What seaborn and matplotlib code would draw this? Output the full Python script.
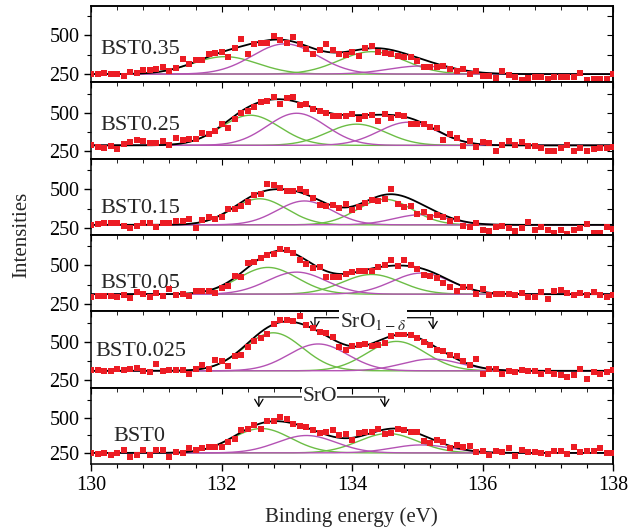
import numpy as np
import matplotlib
matplotlib.use("Agg")
import matplotlib.pyplot as plt
import seaborn as sns
from matplotlib.ticker import MultipleLocator

# binding energy grid of the measured points (0.1 eV step)
energy = np.round(np.linspace(130.0, 138.0, 81), 2)

samples = ["BST0.35", "BST0.25", "BST0.15", "BST0.05", "BST0.025", "BST0"]

counts_035 = [254, 252, 261, 254, 254, 239, 265, 256, 280, 280,
              282, 297, 269, 291, 351, 319, 345, 345, 379, 388,
              394, 362, 422, 478, 379, 448, 450, 450, 496, 474,
              450, 487, 442, 416, 384, 405, 444, 409, 379, 377,
              392, 366, 420, 435, 394, 388, 379, 369, 364, 364,
              336, 295, 295, 295, 306, 282, 274, 282, 254, 272,
              241, 239, 226, 272, 248, 233, 211, 228, 235, 231,
              222, 233, 235, 231, 235, 261, 213, 222, 222, 222,
              252]
counts_025 = [287, 276, 270, 283, 263, 298, 309, 320, 316, 303,
              305, 314, 287, 338, 324, 327, 331, 368, 364, 379,
              427, 401, 458, 500, 511, 539, 570, 579, 605, 561,
              600, 605, 552, 557, 526, 517, 500, 478, 482, 484,
              491, 462, 480, 489, 451, 493, 469, 489, 480, 430,
              427, 430, 405, 401, 322, 360, 335, 285, 318, 276,
              309, 303, 252, 292, 318, 287, 309, 281, 281, 270,
              252, 252, 270, 292, 252, 270, 248, 265, 268, 270,
              276]
counts_015 = [270, 276, 281, 281, 281, 265, 250, 265, 285, 283,
              259, 285, 285, 298, 292, 311, 250, 303, 320, 309,
              324, 375, 375, 390, 421, 462, 473, 535, 526, 508,
              491, 487, 500, 482, 443, 401, 390, 397, 379, 403,
              364, 386, 414, 434, 423, 438, 504, 403, 386, 390,
              342, 353, 324, 331, 324, 298, 309, 265, 254, 281,
              237, 232, 259, 265, 250, 228, 250, 287, 239, 259,
              239, 219, 237, 211, 239, 248, 276, 215, 215, 254,
              243]
counts_005 = [299, 304, 304, 306, 295, 308, 293, 331, 314, 301,
              321, 306, 351, 308, 314, 306, 338, 338, 338, 325,
              355, 370, 434, 428, 513, 524, 547, 565, 575, 605,
              599, 577, 535, 507, 485, 492, 428, 423, 425, 443,
              460, 464, 464, 466, 490, 500, 535, 494, 535, 500,
              477, 440, 434, 421, 385, 363, 338, 359, 359, 318,
              346, 308, 314, 314, 314, 312, 321, 299, 299, 329,
              286, 338, 342, 321, 312, 321, 308, 329, 308, 299,
              310]
counts_0025 = [315, 319, 311, 313, 326, 319, 324, 330, 313, 300,
               359, 313, 315, 319, 315, 287, 322, 352, 326, 380,
               374, 343, 408, 417, 471, 508, 528, 558, 623, 651,
               645, 641, 673, 615, 593, 571, 560, 534, 467, 452,
               478, 484, 487, 478, 484, 493, 539, 558, 552, 547,
               526, 504, 484, 452, 445, 417, 408, 378, 348, 389,
               293, 326, 326, 293, 309, 304, 315, 313, 309, 291,
               309, 287, 283, 267, 283, 326, 259, 304, 289, 304,
               315]
counts_0 = [252, 241, 248, 236, 248, 269, 222, 236, 269, 236,
            269, 271, 224, 259, 248, 283, 271, 283, 294, 292,
            292, 330, 353, 416, 418, 447, 421, 475, 475, 505,
            493, 456, 442, 435, 416, 393, 400, 411, 376, 388,
            341, 393, 397, 397, 421, 386, 390, 421, 411, 397,
            400, 339, 320, 346, 330, 287, 306, 290, 297, 259,
            264, 236, 264, 259, 285, 231, 273, 257, 255, 252,
            241, 264, 264, 243, 292, 255, 264, 264, 285, 252,
            248]
counts = [counts_035, counts_025, counts_015, counts_005, counts_0025, counts_0]

# fitted components: background level, peak width (sigma, eV),
# green doublet (centre, height) and magenta doublet (centre, height)
baselines = [252, 287, 270, 316, 311, 252]
widths = [0.50, 0.45, 0.42, 0.45, 0.45, 0.45]
green_centres = [[132.05, 134.30], [132.44, 134.07], [132.58, 134.50],
                 [132.71, 134.30], [132.79, 134.68], [132.61, 134.55]]
green_heights = [[112, 144], [199, 140], [169, 166],
                 [171, 126], [252, 195], [171, 136]]
magenta_centres = [[132.97, 135.06], [133.15, 134.86], [133.27, 135.06],
                   [133.15, 135.06], [133.48, 135.22], [133.30, 135.06]]
magenta_heights = [[194, 52], [212, 153], [155, 66],
                   [141, 135], [178, 78], [122, 56]]

ylims = [(200, 690), (200, 704), (205, 700), (207, 695), (200, 706), (175, 710)]
label_pos = [(0.017, 0.43), (0.017, 0.43), (0.017, 0.35),
             (0.017, 0.36), (0.008, 0.47), (0.042, 0.36)]

green = "#6cbd45"
magenta = "#b452b4"
red = "#ec1c24"

sns.set_style("ticks")
plt.rcParams["font.family"] = ["Liberation Serif", "DejaVu Serif"]
plt.rcParams["mathtext.fontset"] = "stix"
plt.rcParams["axes.edgecolor"] = "black"
plt.rcParams["xtick.color"] = "black"
plt.rcParams["ytick.color"] = "black"
plt.rcParams["axes.linewidth"] = 1.1

fig, axes = plt.subplots(6, 1, figsize=(6.42, 5.32), dpi=100, sharex=True)
fig.subplots_adjust(left=0.142, right=0.955, top=0.989, bottom=0.128, hspace=0)

xf = np.linspace(130, 138, 800)


def gauss(x, c, h, s):
    return h * np.exp(-(x - c) ** 2 / (2 * s * s))


def bracket(ax, x0, x1, y_line, y_tip, text, tx, ty):
    tr = ax.get_xaxis_transform()
    ax.annotate("", xy=(x1, y_line), xytext=(x0, y_line), xycoords=tr, textcoords=tr,
                arrowprops=dict(arrowstyle="-", lw=0.9, color="black", shrinkA=0, shrinkB=0))
    for xx in (x0, x1):
        ax.annotate("", xy=(xx, y_tip), xytext=(xx, y_line), xycoords=tr, textcoords=tr,
                    arrowprops=dict(arrowstyle="->,head_length=0.5,head_width=0.3", lw=0.9,
                                    color="black", shrinkA=0, shrinkB=0))
    ax.text(tx, ty, text, transform=tr, ha="center", va="center", fontsize=15.5,
            bbox=dict(facecolor="white", edgecolor="none", pad=0.5), zorder=5)


for i, ax in enumerate(axes):
    base = baselines[i]
    s = widths[i]
    fit = np.full_like(xf, float(base))
    for c, h in zip(green_centres[i], green_heights[i]):
        comp = gauss(xf, c, h, s)
        fit = fit + comp
        sns.lineplot(x=xf, y=base + comp, ax=ax, color=green, lw=1.0)
    for c, h in zip(magenta_centres[i], magenta_heights[i]):
        comp = gauss(xf, c, h, s)
        fit = fit + comp
        sns.lineplot(x=xf, y=base + comp, ax=ax, color=magenta, lw=1.0)
    sns.lineplot(x=xf, y=fit, ax=ax, color="black", lw=1.3)
    sns.scatterplot(x=energy, y=counts[i], ax=ax, marker="s", s=20, color=red,
                    linewidth=0, zorder=4)

    ax.set_xlim(130, 138)
    ax.set_ylim(*ylims[i])
    ax.set_ylabel("")
    ax.set_yticks([250, 500])
    ax.yaxis.set_minor_locator(MultipleLocator(125))
    ax.tick_params(axis="y", which="major", direction="out", length=5, width=1, labelsize=14.5)
    ax.tick_params(axis="y", which="minor", direction="out", length=3, width=0.8)
    sec = ax.secondary_yaxis("right")
    sec.set_yticks([250, 375, 500, 625])
    sec.tick_params(direction="in", length=4, width=0.8, labelright=False)

    ax.xaxis.set_major_locator(MultipleLocator(2))
    ax.xaxis.set_minor_locator(MultipleLocator(0.4))
    top = ax.secondary_xaxis("top")
    top.xaxis.set_major_locator(MultipleLocator(2))
    top.xaxis.set_minor_locator(MultipleLocator(0.4))
    top.tick_params(which="both", direction="in", labeltop=False)
    top.tick_params(which="major", length=4)
    top.tick_params(which="minor", length=3)
    if i < 5:
        ax.tick_params(axis="x", which="both", bottom=False, labelbottom=False)
    else:
        ax.tick_params(axis="x", which="major", direction="out", length=5, width=1, labelsize=14.5)
        ax.tick_params(axis="x", which="minor", direction="out", length=3, width=0.8)

    lx, ly = label_pos[i]
    ax.text(lx, ly, samples[i], transform=ax.transAxes, fontsize=16, va="center", ha="left")

bracket(axes[4], 133.43, 135.24, 0.915, 0.76, r"SrO$_{1-\delta}$", 134.32, 0.87)
bracket(axes[5], 132.57, 134.50, 0.877, 0.74, "SrO", 133.50, 0.877)

fig.text(0.034, 0.558, "Intensities", rotation=90, ha="center", va="center", fontsize=15)
fig.text(0.548, 0.028, "Binding energy (eV)", ha="center", va="center", fontsize=15)

fig.savefig("out.png", dpi=100)
